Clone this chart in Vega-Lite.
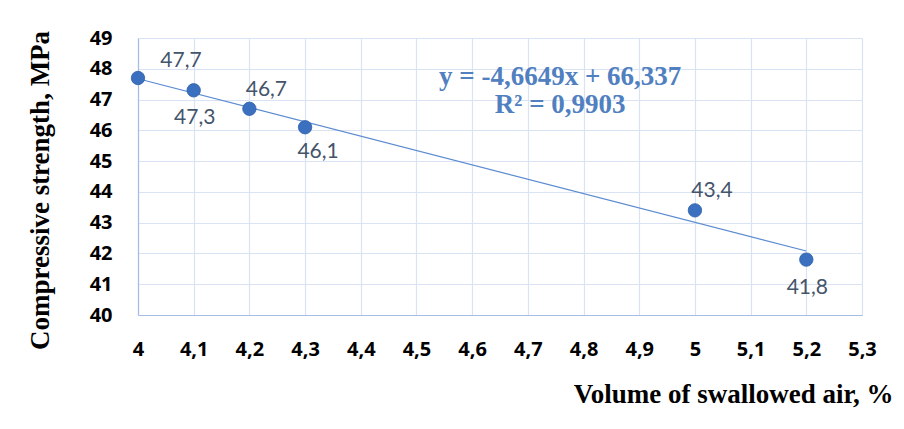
{
  "$schema": "https://vega.github.io/schema/vega-lite/v6.json",
  "width": 724,
  "height": 277,
  "autosize": "none",
  "padding": {"left": 138, "top": 38, "right": 42, "bottom": 114},
  "background": "white",
  "config": {
    "locale": {"number": {"decimal": ",", "thousands": " ", "grouping": [3], "currency": ["", ""]}},
    "view": {"stroke": "#dae3f3"}
  },
  "datasets": {
    "pts": [
      {"air": 4.0, "strength": 47.7},
      {"air": 4.1, "strength": 47.3},
      {"air": 4.2, "strength": 46.7},
      {"air": 4.3, "strength": 46.1},
      {"air": 5.0, "strength": 43.4},
      {"air": 5.2, "strength": 41.8}
    ],
    "eq": [
      {"air": 4.758, "strength": 47.73, "text": "y = -4,6649x + 66,337"},
      {"air": 4.758, "strength": 46.82, "text": "R² = 0,9903"}
    ]
  },
  "encoding": {
    "x": {
      "field": "air", "type": "quantitative",
      "scale": {"domain": [4, 5.3], "nice": false, "zero": false},
      "axis": {
        "values": [4, 4.1, 4.2, 4.3, 4.4, 4.5, 4.6, 4.7, 4.8, 4.9, 5, 5.1, 5.2, 5.3],
        "format": "~g",
        "title": "Volume of swallowed air, %",
        "titleFont": "Liberation Serif", "titleFontSize": 27, "titleFontWeight": "bold", "titleColor": "#000000",
        "titleX": 755, "titleY": 87, "titleAlign": "right", "titleAnchor": "end", "titleBaseline": "alphabetic",
        "labelFont": "Open Sans", "labelFontSize": 20, "labelFontWeight": "bold", "labelColor": "#000000",
        "labelPadding": 24, "ticks": false,
        "grid": true, "gridColor": "#dae3f3", "gridWidth": 1.2,
        "domainColor": "#a4bde6", "domainWidth": 1.2, "labelFlush": false
      }
    },
    "y": {
      "field": "strength", "type": "quantitative",
      "scale": {"domain": [40, 49], "nice": false, "zero": false},
      "axis": {
        "values": [40, 41, 42, 43, 44, 45, 46, 47, 48, 49],
        "title": "Compressive strength, MPa",
        "titleFont": "Liberation Serif", "titleFontSize": 27, "titleFontWeight": "bold", "titleColor": "#000000",
        "titleX": -90, "titleY": 152, "titleAlign": "center", "titleAngle": -90, "titleBaseline": "alphabetic",
        "labelFont": "Open Sans", "labelFontSize": 20, "labelFontWeight": "bold", "labelColor": "#000000",
        "labelPadding": 26, "ticks": false,
        "grid": true, "gridColor": "#dae3f3", "gridWidth": 1.2,
        "domainColor": "#a4bde6", "domainWidth": 1.2, "labelFlush": false
      }
    }
  },
  "layer": [
    {
      "data": {"name": "pts"},
      "transform": [{"regression": "strength", "on": "air", "method": "linear"}],
      "mark": {"type": "line", "color": "#5b8bd0", "strokeWidth": 1.2},
      "encoding": {}
    },
    {
      "data": {"name": "pts"},
      "mark": {"type": "circle", "color": "#3b6fbf", "size": 180, "opacity": 1, "stroke": "#2f5fa8", "strokeWidth": 0.8}
    },
    {
      "data": {"name": "pts"},
      "transform": [{"filter": "datum.strength == 47.7"}],
      "mark": {"type": "text", "font": "Lato", "fontSize": 21, "color": "#44546a", "dx": 43, "dy": -17, "baseline": "middle"},
      "encoding": {"text": {"field": "strength", "type": "quantitative", "format": ".1f"}}
    },
    {
      "data": {"name": "pts"},
      "transform": [{"filter": "datum.strength == 46.7 || datum.strength == 43.4"}],
      "mark": {"type": "text", "font": "Lato", "fontSize": 21, "color": "#44546a", "dx": 17, "dy": -19, "baseline": "middle"},
      "encoding": {"text": {"field": "strength", "type": "quantitative", "format": ".1f"}}
    },
    {
      "data": {"name": "pts"},
      "transform": [{"filter": "datum.strength == 47.3 || datum.strength == 41.8"}],
      "mark": {"type": "text", "font": "Lato", "fontSize": 21, "color": "#44546a", "dx": 1, "dy": 28, "baseline": "middle"},
      "encoding": {"text": {"field": "strength", "type": "quantitative", "format": ".1f"}}
    },
    {
      "data": {"name": "pts"},
      "transform": [{"filter": "datum.strength == 46.1"}],
      "mark": {"type": "text", "font": "Lato", "fontSize": 21, "color": "#44546a", "dx": 13, "dy": 25, "baseline": "middle"},
      "encoding": {"text": {"field": "strength", "type": "quantitative", "format": ".1f"}}
    },
    {
      "data": {"name": "eq"},
      "mark": {"type": "text", "font": "Liberation Serif", "fontSize": 27, "fontWeight": "bold", "color": "#5080c0", "baseline": "middle", "align": "center"},
      "encoding": {"text": {"field": "text", "type": "nominal"}}
    }
  ]
}
